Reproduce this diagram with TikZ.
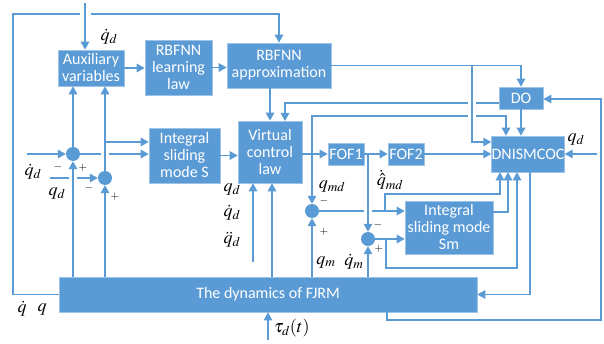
\documentclass[tikz,border=0pt]{standalone}
\usepackage{mathptmx}
\usepackage[no-math]{fontspec}
\setmainfont{Carlito}
\usetikzlibrary{arrows.meta}
\definecolor{flow}{HTML}{5B9BD5}
\definecolor{rim}{HTML}{9DC3E6}

\begin{document}
\begin{tikzpicture}[x=1pt,y=-1pt,
  blk/.style={rectangle, fill=flow, draw=rim, line width=0.6pt, text=white,
    align=center, inner sep=1pt, font=\fontsize{16}{19}\selectfont},
  sum/.style={circle, fill=flow, minimum size=14pt, inner sep=0pt},
  wire/.style={draw=flow, line width=1.5pt},
  arr/.style={wire, -{Triangle[length=8pt,width=8.5pt]}},
  lbl/.style={font=\fontsize{18}{20}\selectfont, inner sep=0pt},
  sgn/.style={font=\fontsize{11}{12}\selectfont, inner sep=0pt}]
\useasboundingbox (0,0) rectangle (604,344);

% blocks
\node[blk, minimum width=66pt, minimum height=36pt] (aux) at (91,68) {Auxiliary\\[-2pt]variables};
\node[blk, minimum width=67pt, minimum height=55pt] (rbl) at (178.5,67.5) {RBFNN\\[-2pt]learning\\[-2pt]law};
\node[blk, minimum width=104pt, minimum height=45pt] (rba) at (279,65.5) {RBFNN\\[-2pt]approximation};
\node[blk, minimum width=44pt, minimum height=22pt] (do) at (521,98) {DO};
\node[blk, minimum width=72pt, minimum height=36pt, inner sep=0pt] (dnis) at (528,154) {DNISMCOC};
\node[blk, minimum width=64pt, minimum height=62pt] (vcl) at (270,152) {Virtual\\[-2pt]control\\[-2pt]law};
\node[blk, minimum width=36pt, minimum height=22pt] (fof1) at (346,154) {FOF1};
\node[blk, minimum width=36pt, minimum height=22pt] (fof2) at (406,154) {FOF2};
\node[blk, minimum width=71pt, minimum height=55pt] (ints) at (184.5,155.5) {Integral\\[-2pt]sliding\\[-2pt]mode S};
\node[blk, minimum width=88pt, minimum height=53pt] (intsm) at (449,227.5) {Integral\\[-2pt]sliding mode\\[-2pt]Sm};
\node[blk, minimum width=418pt, minimum height=35pt] (dyn) at (268,294.5) {The dynamics of FJRM};

% summing junctions
\node[sum] (s1) at (73,154) {};
\node[sum] (s2) at (105,178) {};
\node[sum] (s3) at (312,211) {};
\node[sum] (s4) at (368,239) {};

% free ends and branch points
\coordinate (qdin) at (85,3);
\coordinate (qddin) at (27,154);
\coordinate (qdlin) at (50,178);
\coordinate (refin) at (253,262);
\coordinate (qdr) at (597,154);
\coordinate (tauin) at (268,340);
\coordinate (j1) at (312,154);
\coordinate (j2) at (368,154);

% reference input to the auxiliary variables
\draw[arr] (qdin) -- (qdin |- aux.north);
\node[lbl] at (109,37) {$\dot{q}_d$};

% measured state fed back along the left and top
\draw[wire] (dyn.west) -- (13,294.5) -- (13,14) -- (80,14);
\draw[arr] (91,14) -- (rba.north |- 0,14) -- (rba.north);

% neural network chain
\draw[arr] (aux.east) -- (aux.east -| rbl.west);
\draw[arr] (rbl.east) -- (rbl.east -| rba.west);
\draw[arr] (rba.east) -- (do.north |- rba.east) -- (do.north);
\draw[arr] (472,65.5) -- (472,142) -- (dnis.west |- 0,142);
\draw[arr] (rba.south -| vcl.north) -- (vcl.north);

% disturbance observer outputs
\draw[wire] (do.west |- 0,103) -- (476,103);
\draw[arr] (468,103) -- (285,103) -- (285,121);
\draw[arr] (do.south) -- (dnis.north -| do.south);

% error signals for the integral sliding mode S
\draw[arr] (qddin) -- (s1.west);
\draw[arr] (dyn.north -| s1) -- (s1.south);
\draw[arr] (s1.north) -- (aux.south -| s1.north);
\draw[wire] (s1.east) -- (101,154);
\draw[arr] (109,154) -- (ints.west |- 0,154);
\draw[wire] (qdlin) -- (69,178);
\draw[arr] (77,178) -- (s2.west);
\draw[arr] (dyn.north -| s2) -- (s2.south);
\draw[arr] (s2.north) -- (aux.south -| s2.north);
\draw[arr] (105,142) -- (ints.west |- 0,142);
\node[lbl] at (33,172) {$\dot{q}_d$};
\node[lbl] at (57,193) {$q_d$};
\node[sgn] at (58,167) {$-$};
\node[sgn] at (83,168) {$+$};
\node[sgn] at (89,188) {$-$};
\node[sgn] at (115,197) {$+$};

% virtual control law
\draw[arr] (ints.east) -- (ints.east -| vcl.west);
\draw[arr] (refin) -- (refin |- vcl.south);
\draw[arr] (dyn.north -| 272,0) -- (vcl.south -| 272,0);
\node[lbl] at (232,189) {$q_d$};
\node[lbl] at (232,213) {$\dot{q}_d$};
\node[lbl] at (232,240) {$\ddot{q}_d$};

% filters and motor-side errors
\draw[arr] (vcl.east |- fof1.west) -- (fof1.west);
\draw[wire] (j1) -- (312,116) -- (468,116);
\draw[arr] (476,116) -- (506,116) -- (dnis.north -| 506,0);
\draw[arr] (j1) -- (s3.north);
\draw[arr] (fof1.east) -- (fof2.west);
\draw[arr] (j2) -- (s4.north);
\draw[arr] (fof2.east) -- (dnis.west);
\node[lbl] at (332,186) {$q_{md}$};
\node[lbl] at (390,180) {$\dot{\hat{q}}_{md}$};

\draw[arr] (dyn.north -| s3) -- (s3.south);
\draw[wire] (s3.east) -- (364,211);
\draw[arr] (372,211) -- (intsm.west |- 0,211);
\draw[arr] (385,211) -- (385,194) -- (500,194) -- (dnis.south -| 500,0);
\node[sgn] at (324,201) {$-$};
\node[sgn] at (324,232) {$+$};
\node[lbl] at (326,262) {$q_m$};

\draw[arr] (dyn.north -| s4) -- (s4.south);
\draw[arr] (s4.east) -- (intsm.west |- s4);
\draw[arr] (386,239) -- (386,268) -- (517,268) -- (dnis.south -| 517,0);
\node[sgn] at (378,225) {$-$};
\node[sgn] at (379,249) {$+$};
\node[lbl] at (354,262) {$\dot{q}_m$};

\draw[arr] (intsm.east |- 0,212) -- (508,212) -- (dnis.south -| 508,0);

% controller output and right-hand loops
\draw[arr] (qdr) -- (dnis.east);
\node[lbl] at (576,139) {$q_d$};
\draw[arr] (530,172) -- (530,294.5) -- (dyn.east);
\draw[arr] (dyn.south -| 387,0) -- (387,320) -- (601,320) -- (601,99) -- (do.east |- 0,99);

% disturbance input and plant outputs
\draw[arr] (tauin) -- (tauin |- dyn.south);
\node[lbl, anchor=west] at (274,328) {$\tau_d(t)$};
\node[lbl] at (22,309) {$\dot{q}$};
\node[lbl] at (42,309) {$q$};
\end{tikzpicture}
\end{document}
